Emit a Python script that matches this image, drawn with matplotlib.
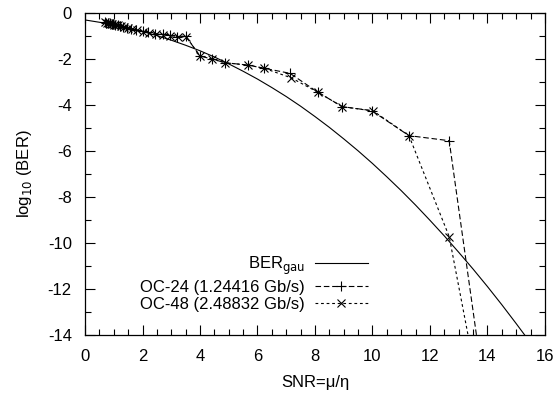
import matplotlib
matplotlib.use("Agg")
import matplotlib.pyplot as plt
from matplotlib.ticker import MultipleLocator

plt.rcParams["font.family"] = ["Liberation Sans", "DejaVu Sans"]
plt.rcParams["axes.unicode_minus"] = False

# === data ===
# BER_gau curve, log10 values read at half-unit SNR steps
snr_gau = [0, 0.5, 1, 1.5, 2, 2.5, 3, 3.5, 4, 4.5, 5, 5.5, 6, 6.5, 7, 7.5, 8,
           8.5, 9, 9.5, 10, 10.5, 11, 11.5, 12, 12.5, 13, 13.5, 14, 14.5, 15,
           15.5, 16]
ber_gau = [-0.30, -0.40, -0.51, -0.64, -0.80, -0.98, -1.18, -1.40, -1.64,
           -1.91, -2.21, -2.53, -2.87, -3.24, -3.63, -4.05, -4.50, -4.97,
           -5.47, -5.99, -6.54, -7.12, -7.72, -8.35, -9.01, -9.69, -10.40,
           -11.13, -11.89, -12.68, -13.50, -14.34, -15.21]

# OC-24 (1.24416 Gb/s)
snr_oc24 = [0.68, 0.74, 0.80, 0.86, 0.92, 0.98, 1.05, 1.13, 1.22, 1.32, 1.45,
            1.60, 1.78, 2.00, 2.20, 2.45, 2.70, 2.95, 3.20, 3.50, 4.00, 4.43,
            4.87, 5.66, 6.23, 7.13, 8.11, 8.95, 9.97, 11.27, 12.67, 14.00]
ber_oc24 = [-0.40, -0.42, -0.44, -0.45, -0.47, -0.49, -0.51, -0.53, -0.56,
            -0.60, -0.64, -0.68, -0.74, -0.80, -0.84, -0.90, -0.93, -0.97,
            -1.02, -1.00, -1.87, -2.00, -2.16, -2.26, -2.40, -2.62, -3.45,
            -4.07, -4.24, -5.33, -5.55, -17.40]

# OC-48 (2.48832 Gb/s)
snr_oc48 = [0.70, 0.76, 0.82, 0.88, 0.94, 1.00, 1.08, 1.16, 1.25, 1.35, 1.48,
            1.62, 1.80, 2.02, 2.22, 2.47, 2.72, 2.97, 3.22, 3.52, 4.00, 4.43,
            4.87, 5.66, 6.23, 7.18, 8.11, 8.95, 10.03, 11.27, 12.67, 14.00]
ber_oc48 = [-0.41, -0.43, -0.44, -0.46, -0.48, -0.50, -0.52, -0.54, -0.57,
            -0.61, -0.65, -0.69, -0.75, -0.81, -0.85, -0.90, -0.94, -0.98,
            -1.03, -1.03, -1.87, -2.00, -2.16, -2.26, -2.40, -2.82, -3.45,
            -4.07, -4.26, -5.33, -9.72, -18.40]

# === figure ===
fig = plt.figure(figsize=(5.56, 3.96), dpi=100)
ax = fig.add_axes([0.153, 0.154, 0.827, 0.813])

ax.plot(snr_gau, ber_gau, color="black", lw=0.8, label="BER$_{\\mathrm{gau}}$")
ax.plot(snr_oc24, ber_oc24, color="black", lw=0.8, ls=(0, (5, 2.5)),
        marker="+", ms=7, mew=0.8, label="OC-24 (1.24416 Gb/s)")
ax.plot(snr_oc48, ber_oc48, color="black", lw=0.8, ls=(0, (2.5, 2.5)),
        marker="x", ms=6, mew=0.8, label="OC-48 (2.48832 Gb/s)")

ax.set_xlim(0, 16)
ax.set_ylim(-14, 0)
ax.xaxis.set_major_locator(MultipleLocator(2))
ax.xaxis.set_minor_locator(MultipleLocator(0.5))
ax.yaxis.set_major_locator(MultipleLocator(2))
ax.yaxis.set_minor_locator(MultipleLocator(1))
ax.tick_params(which="both", direction="in", top=True, right=True,
               labelsize=12, width=0.8)
ax.tick_params(axis="x", pad=10)
ax.tick_params(axis="y", pad=9.5)
ax.tick_params(which="major", length=7)
ax.tick_params(which="minor", length=4)
for s in ax.spines.values():
    s.set_linewidth(0.9)

ax.set_xlabel("SNR=\u03bc/\u03b7", fontsize=12, labelpad=8)
ax.set_ylabel("log$_{10}$ (BER)", fontsize=12, labelpad=10)

ax.legend(loc="lower right", bbox_to_anchor=(0.63, 0.05), frameon=False,
          markerfirst=False, fontsize=12, handlelength=3.2,
          labelspacing=0.15, handletextpad=0.6, borderaxespad=0)

plt.savefig("out.png", dpi=100)
plt.close()
